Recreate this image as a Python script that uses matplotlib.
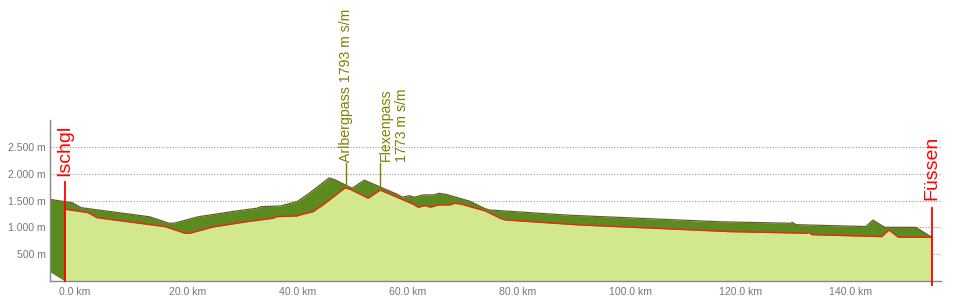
import numpy as np
import matplotlib
matplotlib.use("Agg")
import matplotlib.pyplot as plt
from matplotlib.transforms import ScaledTranslation

plt.rcParams['font.family'] = ['Liberation Sans', 'DejaVu Sans']

# elevation profile: distance (km) and height (m)
km = [0.0, 4.2, 5.8, 18.2, 21.8, 22.7, 26.9, 33.1, 37.8, 38.5, 42.2, 42.7,
      45.1, 46.9, 50.9, 51.8, 55.1, 57.3, 61.5, 63.3, 64.2, 65.5, 66.4, 67.9,
      70.0, 70.9, 72.1, 73.6, 76.4, 79.1, 80.0, 93.6, 114.2, 120.9, 134.9,
      135.1, 135.8, 148.5, 149.8, 151.5, 157.6]
elev = [1339, 1275, 1182, 1015, 892, 892, 1009, 1108, 1171, 1201, 1214, 1233,
        1294, 1419, 1735, 1711, 1544, 1695, 1512, 1432, 1376, 1406, 1376, 1419,
        1419, 1450, 1432, 1387, 1307, 1171, 1140, 1046, 953, 922, 892,
        911, 866, 829, 953, 817, 817]

start_name, end_name = 'Ischgl', 'Füssen'
pass_km = [51.1, 57.3]
pass_labels = ['Arlbergpass 1793 m s/m', 'Flexenpass\n1773 m s/m']

x_ticks = [0, 20, 40, 60, 80, 100, 120, 140]
y_ticks = [500, 1000, 1500, 2000, 2500]

light = '#d2e88c'
dark = '#5b8a1f'
olive = '#808000'
grey = '#777777'

fig = plt.figure(figsize=(9.54, 3.04), dpi=100)
ax = fig.add_axes([50 / 954, 1 - 281.2 / 304, 891 / 954, 161.2 / 304])
ax.set_xlim(-2.73, 159.27)
ax.set_ylim(0, 3000)

# 3d depth offset in pixels, converted to data units
o = ax.transData.transform((0, 0))
dx, dy = ax.transData.inverted().transform(o + np.array([-16, 10]))

xs = np.array(km)
ys = np.array(elev)
xg = np.linspace(xs[0] + dx, xs[-1], 3000)
t = np.linspace(0, 1, 401)
src = xg[:, None] - t[None, :] * dx
vals = np.interp(src, xs, ys) + t[None, :] * dy
vals[(src < xs[0]) | (src > xs[-1])] = -np.inf
env = vals.max(axis=1)
lower = np.clip(dy * (xs[0] - xg) / (-dx), 0, None)

ax.fill_between(xg, lower, env, color=dark, lw=0, zorder=1.5)
ax.plot(xg, env, color='#6b5a38', lw=0.9, zorder=1.55)
ax.fill_between(xs, 0, ys, color=light, lw=0, zorder=1.6)
ax.plot(xs, ys, color='#ff1a1a', lw=0.9, zorder=1.7)

# start / end markers
ax.plot([xs[0], xs[0]], [0, 1840], color='red', lw=1.3, zorder=5, clip_on=False)
ax.text(xs[0], 1950, start_name, rotation=90, ha='center', va='bottom',
        color='red', fontsize=14, clip_on=False)
ax.plot([xs[-1], xs[-1]], [-75, 1360], color='red', lw=1.3, zorder=5, clip_on=False)
ax.text(xs[-1], 1510, end_name, rotation=90, ha='center', va='bottom',
        color='red', fontsize=14, clip_on=False)

# pass annotations
for i, (pk, lab) in enumerate(zip(pass_km, pass_labels)):
    pe = np.interp(pk, xs, ys)
    ax.plot([pk, pk], [pe, 2200], color=olive, lw=1, zorder=5)
    shift = 0 if i == 0 else 10 / 72
    tr = ax.transData + ScaledTranslation(shift, 0, fig.dpi_scale_trans)
    ax.text(pk, 2225, lab, rotation=90, ha='center', va='bottom', color=olive,
            fontsize=10.2, multialignment='right', linespacing=1.25,
            transform=tr, clip_on=False)

ax.set_yticks(y_ticks)
ax.set_yticklabels([f'{v:,}'.replace(',', '.') + ' m' for v in y_ticks])
ax.set_xticks(x_ticks)
ax.set_xticklabels([f'{v:.1f} km' for v in x_ticks])
ax.tick_params(length=0, labelsize=7.6, labelcolor=grey)
ax.tick_params(axis='y', pad=3)
ax.tick_params(axis='x', pad=4)
for lbl in ax.get_xticklabels():
    lbl.set_horizontalalignment('left')
    lbl.set_transform(lbl.get_transform() + ScaledTranslation(-6 / 100, 0, fig.dpi_scale_trans))

ax.grid(axis='y', linestyle=(0, (1, 1.5)), color='#999999', lw=0.8)
ax.set_axisbelow(True)
for s in ['top', 'right']:
    ax.spines[s].set_visible(False)
for s in ['left', 'bottom']:
    ax.spines[s].set_color('#888888')
    ax.spines[s].set_linewidth(1)

fig.savefig('out.png', dpi=100)
